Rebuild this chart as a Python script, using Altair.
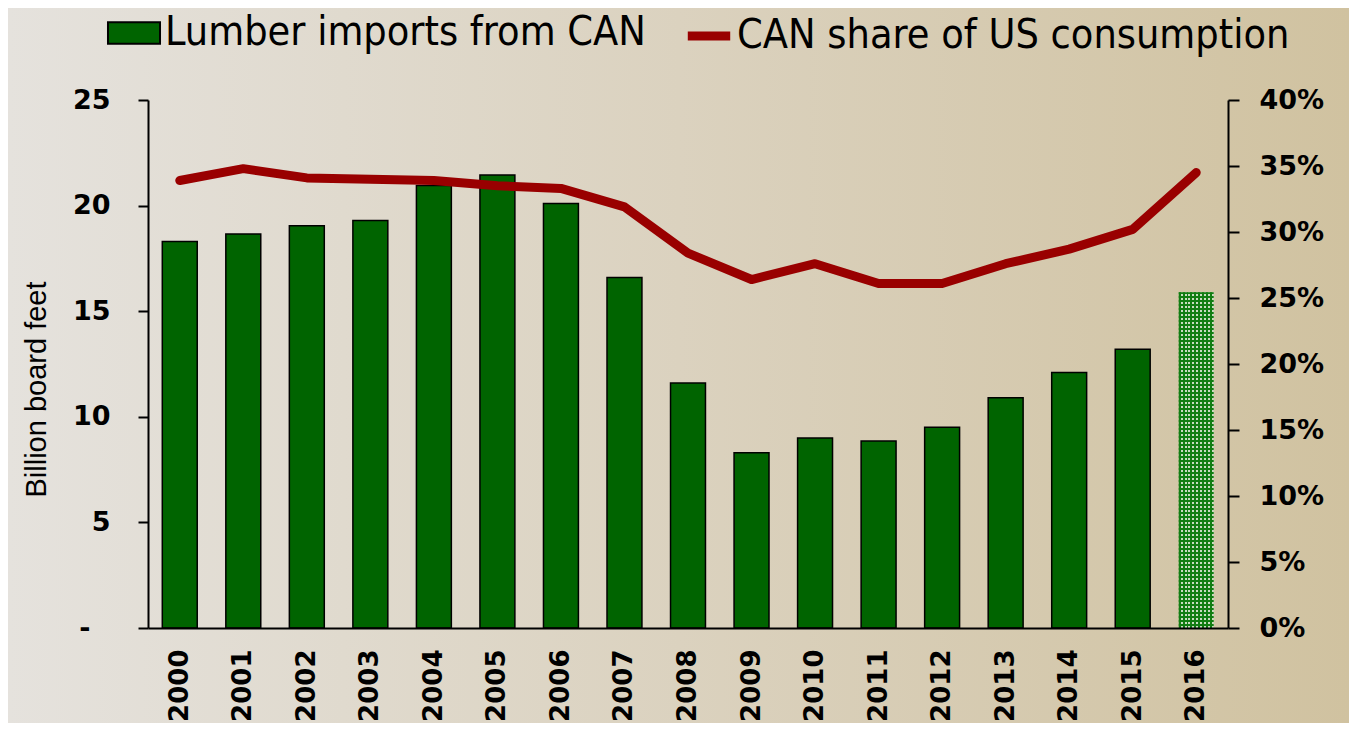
import altair as alt
import pandas as pd

years = ["2000", "2001", "2002", "2003", "2004", "2005", "2006", "2007", "2008",
         "2009", "2010", "2011", "2012", "2013", "2014", "2015", "2016"]
imports_bbf = [18.3, 18.65, 19.05, 19.3, 20.95, 21.45, 20.1, 16.6, 11.6,
               8.3, 9.0, 8.85, 9.5, 10.9, 12.1, 13.2, 15.9]
can_share = [0.339, 0.348, 0.341, 0.340, 0.339, 0.335, 0.333, 0.319, 0.284,
             0.264, 0.276, 0.261, 0.261, 0.276, 0.287, 0.302, 0.345]
bar_label = "Lumber imports from CAN"
line_label = "CAN share of US consumption"
estimate_year = "2016"

W, H = 1080, 528
PAD = {"left": 140, "top": 92, "right": 121, "bottom": 95}

bar_df = pd.DataFrame({"year": years, "imports": imports_bbf, "series": bar_label})
line_df = pd.DataFrame({"year": years, "share": can_share, "series2": line_label})

# background gradient (decoration)
bg_grad = alt.Gradient(
    gradient="linear", x1=0, x2=1, y1=0, y2=0,
    stops=[alt.GradientStop(offset=0, color="#e5e2dd"),
           alt.GradientStop(offset=0.5, color="#dbd2bf"),
           alt.GradientStop(offset=1, color="#d0c2a0")],
)
bg = alt.Chart(pd.DataFrame({"d": [0]})).mark_rect(fill=bg_grad, clip=False).encode(
    x=alt.value(-PAD["left"]), x2=alt.value(W + PAD["right"]),
    y=alt.value(-PAD["top"]), y2=alt.value(H + PAD["bottom"]),
)

# pattern-like fill for the estimate bar
def stripes(n, c1, c2, x_dir):
    st = []
    for i in range(n):
        a, b, c = i / n, (i + 0.5) / n, (i + 1) / n
        st += [alt.GradientStop(offset=a, color=c1), alt.GradientStop(offset=b, color=c1),
               alt.GradientStop(offset=b, color=c2), alt.GradientStop(offset=c, color=c2)]
    if x_dir:
        return alt.Gradient(gradient="linear", x1=0, x2=1, y1=0, y2=0, stops=st)
    return alt.Gradient(gradient="linear", x1=0, x2=0, y1=0, y2=1, stops=st)

x_enc = alt.X("year:N", sort=years,
              scale=alt.Scale(paddingInner=0.45, paddingOuter=0.225),
              axis=alt.Axis(title=None, labelAngle=-90, labelFontSize=26,
                            labelFont="DejaVu Sans", labelFontWeight="bold",
                            labelColor="black", labelPadding=21, ticks=False,
                            domainColor="black", domainWidth=2, zindex=1))

y_left = alt.Y("imports:Q", scale=alt.Scale(domain=[0, 25]),
               axis=alt.Axis(title="Billion board feet", values=[0, 5, 10, 15, 20, 25],
                             labelExpr="datum.value == 0 ? '-' : datum.label",
                             labelPadding={"condition": {"test": "datum.value == 0", "value": 48},
                                           "value": 28},
                             labelFontSize=27, labelFont="DejaVu Sans", labelFontWeight="bold",
                             labelColor="black", tickSize=10, tickColor="black", tickWidth=2,
                             domainColor="black", domainWidth=2, grid=False,
                             titleFont="Liberation Sans", titleFontSize=29, titleFontWeight="normal",
                             titleColor="black", titlePadding=21, titleY=289, zindex=1))

bars = alt.Chart(bar_df).transform_filter(alt.datum.year != estimate_year).mark_bar(
    stroke="black", strokeWidth=1.5
).encode(
    x=x_enc,
    y=y_left,
    fill=alt.Fill("series:N", scale=alt.Scale(domain=[bar_label], range=["#006400"]),
                  legend=alt.Legend(title=None, orient="none", legendX=-37, legendY=-90,
                                    symbolType="M-1.2,-0.5H1.2V0.5H-1.2Z", symbolSize=1880,
                                    symbolStrokeColor="black", symbolStrokeWidth=2,
                                    labelFont="DejaVu Sans Condensed", labelFontSize=41,
                                    labelColor="black", labelOffset=8, padding=0,
                                    labelLimit=800, zindex=1)),
)

est_base = alt.Chart(bar_df).transform_filter(alt.datum.year == estimate_year).mark_bar(
    fill=stripes(9, "#127d12", "#c9dcc0", True)
).encode(x=x_enc, y=y_left)

est_over = alt.Chart(bar_df).transform_filter(alt.datum.year == estimate_year).mark_bar(
    fill=stripes(84, "rgba(18,125,18,1)", "rgba(18,125,18,0)", False)
).encode(x=x_enc, y=y_left)

line = alt.Chart(line_df).mark_line(strokeWidth=9, strokeCap="round", strokeJoin="round").encode(
    x=alt.X("year:N", sort=years),
    y=alt.Y("share:Q", scale=alt.Scale(domain=[0, 0.4]),
            axis=alt.Axis(title=None, orient="right", format=".0%",
                          values=[0, 0.05, 0.1, 0.15, 0.2, 0.25, 0.3, 0.35, 0.4],
                          labelFontSize=27, labelFont="DejaVu Sans", labelFontWeight="bold",
                          labelColor="black", tickSize=11, tickColor="black", tickWidth=2,
                          labelPadding=20, domainColor="black", domainWidth=2, grid=False,
                          zindex=1)),
    stroke=alt.Stroke("series2:N", scale=alt.Scale(domain=[line_label], range=["#990000"]),
                      legend=alt.Legend(title=None, orient="none", legendX=535, legendY=-90,
                                        symbolType="stroke", symbolSize=1800,
                                        symbolStrokeWidth=9,
                                        labelFont="DejaVu Sans Condensed", labelFontSize=41,
                                        labelColor="black", labelOffset=2, padding=0,
                                        labelLimit=800, zindex=1)),
)

left_layer = alt.layer(bars, est_base, est_over)

chart = alt.layer(bg, left_layer, line).resolve_scale(y="independent").properties(
    width=W, height=H, padding=PAD,
    autosize=alt.AutoSizeParams(type="none"),
    background="#dbd2bf",
).configure_view(stroke=None)

chart.save("out.html", embed_options={"renderer": "svg", "actions": False})
